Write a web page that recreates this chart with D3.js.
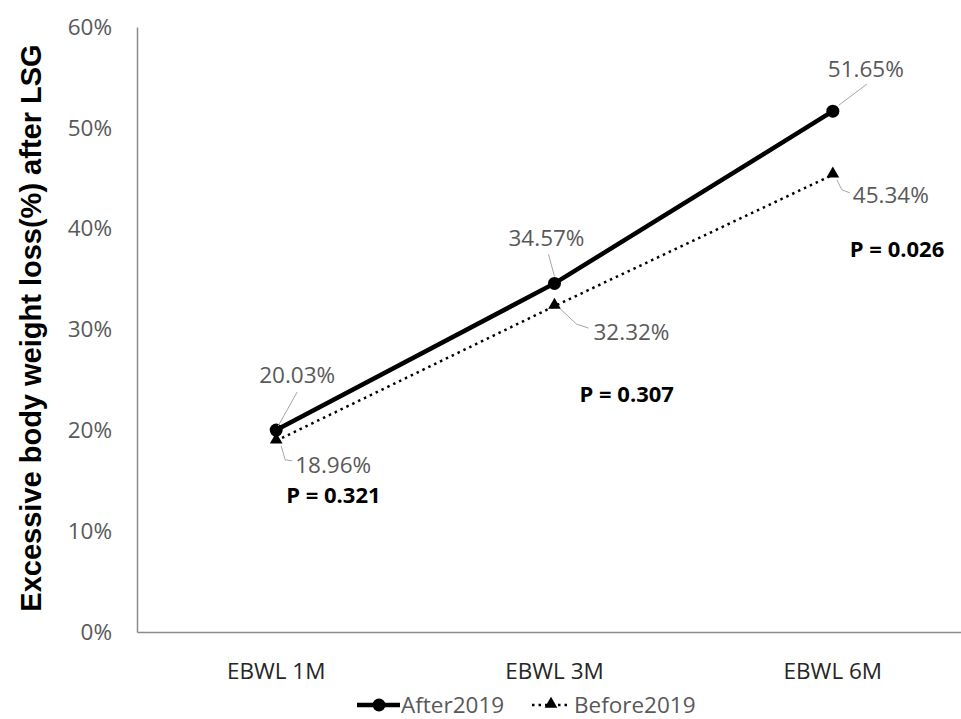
<!DOCTYPE html>
<head>
  <meta charset="utf-8">
  <script src="https://d3js.org/d3.v7.min.js"></script>
  <style>
    body { margin:0; background:#fff; }
    text { font-family: "Open Sans", sans-serif; }
    .ytitle { font-family: "Liberation Sans", Arial, sans-serif; }
  </style>
</head>
<body>
<div id="chart"></div>
<script>
  // data
  var categories = ["EBWL 1M", "EBWL 3M", "EBWL 6M"];
  var after2019 = [20.03, 34.57, 51.65];
  var before2019 = [18.96, 32.32, 45.34];
  var pValues = ["0.321", "0.307", "0.026"];
  var yTicks = [0, 10, 20, 30, 40, 50, 60];
  var seriesNames = ["After2019", "Before2019"];

  var width = 961, height = 719;
  var margin = {top: 27, left: 137, bottom: 87};

  var svg = d3.select("#chart").append("svg")
    .attr("width", width)
    .attr("height", height);

  var x = d3.scaleBand().domain(categories).range([margin.left, 972]);
  var y = d3.scaleLinear().domain([0, 60]).range([height - margin.bottom, margin.top]);
  var cx = function(d, i){ return x(categories[i]) + x.bandwidth() / 2; };

  var grey = "#595959";
  var axisGrey = "#8c8c8c";

  // y axis
  var yAxis = svg.append("g")
    .attr("transform", "translate(" + margin.left + ",0)")
    .call(d3.axisLeft(y).tickValues(yTicks).tickSize(0).tickPadding(25)
      .tickFormat(function(d){ return d + "%"; }));
  yAxis.select(".domain").attr("stroke", axisGrey).attr("stroke-width", 1.5);
  yAxis.selectAll("text").attr("font-size", "22.5px").attr("fill", grey);

  // x axis
  var xAxis = svg.append("g")
    .attr("transform", "translate(0," + y(0) + ")")
    .call(d3.axisBottom(x).tickSize(0).tickPadding(31).tickSizeOuter(0));
  xAxis.select(".domain").attr("stroke", axisGrey).attr("stroke-width", 1.5);
  xAxis.selectAll("text").attr("font-size", "22.5px").attr("fill", "#262626");

  // y title
  svg.append("text")
    .attr("class", "ytitle")
    .attr("transform", "translate(41,328) rotate(-90)")
    .attr("text-anchor", "middle")
    .attr("font-weight", "bold")
    .attr("font-size", "29px")
    .attr("fill", "#000")
    .text("Excessive body weight loss(%) after LSG");

  var line = d3.line()
    .x(function(d, i){ return cx(d, i); })
    .y(function(d){ return y(d); });

  // Before2019 dotted line
  svg.append("path")
    .attr("d", line(before2019))
    .attr("fill", "none")
    .attr("stroke", "#000")
    .attr("stroke-width", 2.5)
    .attr("stroke-dasharray", "2.5,4");

  // After2019 solid line
  svg.append("path")
    .attr("d", line(after2019))
    .attr("fill", "none")
    .attr("stroke", "#000")
    .attr("stroke-width", 4.5);

  var tri = d3.symbol().type(d3.symbolTriangle).size(70);

  svg.selectAll(".tri").data(before2019).enter().append("path")
    .attr("class", "tri")
    .attr("d", tri)
    .attr("transform", function(d, i){ return "translate(" + cx(d, i) + "," + (y(d) - 1) + ")"; })
    .attr("fill", "#000");

  svg.selectAll(".dot").data(after2019).enter().append("circle")
    .attr("class", "dot")
    .attr("cx", cx)
    .attr("cy", function(d){ return y(d); })
    .attr("r", 6.5)
    .attr("fill", "#000");

  // data label layout: offsets from the point
  var afterLabelOffsets = [
    {tx: 21, ty: -47, lead: [[2, -4], [21, -38]]},
    {tx: -8, ty: -37, lead: [[0, -7], [-6, -29]]},
    {tx: 33, ty: -34, lead: [[6, -6], [34, -27]]}
  ];
  var beforeLabelOffsets = [
    {tx: 19, ty: 32, lead: [[5, 5], [9, 19], [16, 20]]},
    {tx: 39, ty: 34, lead: [[6, 3], [22, 18], [34, 22]]},
    {tx: 20, ty: 28, lead: [[4, 5], [9, 15], [17, 18]]}
  ];
  var pLabelOffsets = [{dx: 10, y: 503}, {dx: 25, y: 402}, {dx: 17, y: 257}];

  function leader(values, offsets) {
    svg.selectAll(null).data(values).enter().append("path")
      .attr("d", function(d, i){
        var px = cx(d, i), py = y(d);
        return d3.line()(offsets[i].lead.map(function(p){ return [px + p[0], py + p[1]]; }));
      })
      .attr("fill", "none")
      .attr("stroke", "#a6a6a6")
      .attr("stroke-width", 1);
  }
  leader(after2019, afterLabelOffsets);
  leader(before2019, beforeLabelOffsets);

  svg.selectAll(null).data(after2019).enter().append("text")
    .attr("x", function(d, i){ return cx(d, i) + afterLabelOffsets[i].tx; })
    .attr("y", function(d, i){ return y(d) + afterLabelOffsets[i].ty; })
    .attr("text-anchor", "middle")
    .attr("font-size", "22.5px")
    .attr("fill", grey)
    .text(function(d){ return d.toFixed(2) + "%"; });

  svg.selectAll(null).data(before2019).enter().append("text")
    .attr("x", function(d, i){ return cx(d, i) + beforeLabelOffsets[i].tx; })
    .attr("y", function(d, i){ return y(d) + beforeLabelOffsets[i].ty; })
    .attr("font-size", "22.5px")
    .attr("fill", grey)
    .text(function(d){ return d.toFixed(2) + "%"; });

  svg.selectAll(null).data(pValues).enter().append("text")
    .attr("x", function(d, i){ return x(categories[i]) + x.bandwidth() / 2 + pLabelOffsets[i].dx; })
    .attr("y", function(d, i){ return pLabelOffsets[i].y; })
    .attr("font-size", "22px")
    .attr("font-weight", "bold")
    .attr("fill", "#000")
    .text(function(d){ return "P = " + d; });

  // legend
  var legend = svg.append("g").attr("transform", "translate(0,705)");
  legend.append("line").attr("x1", 357).attr("x2", 400).attr("y1", 0).attr("y2", 0)
    .attr("stroke", "#000").attr("stroke-width", 4.5);
  legend.append("circle").attr("cx", 379).attr("cy", 0).attr("r", 6.5).attr("fill", "#000");
  legend.append("text").attr("x", 401).attr("y", 8).attr("font-size", "22.5px")
    .attr("fill", grey).text(seriesNames[0]);
  legend.append("line").attr("x1", 532).attr("x2", 570).attr("y1", 0).attr("y2", 0)
    .attr("stroke", "#000").attr("stroke-width", 2.5).attr("stroke-dasharray", "2.5,4");
  legend.append("path").attr("d", tri).attr("transform", "translate(551,-1)").attr("fill", "#000");
  legend.append("text").attr("x", 574).attr("y", 8).attr("font-size", "22.5px")
    .attr("fill", grey).text(seriesNames[1]);
</script>
</body>
